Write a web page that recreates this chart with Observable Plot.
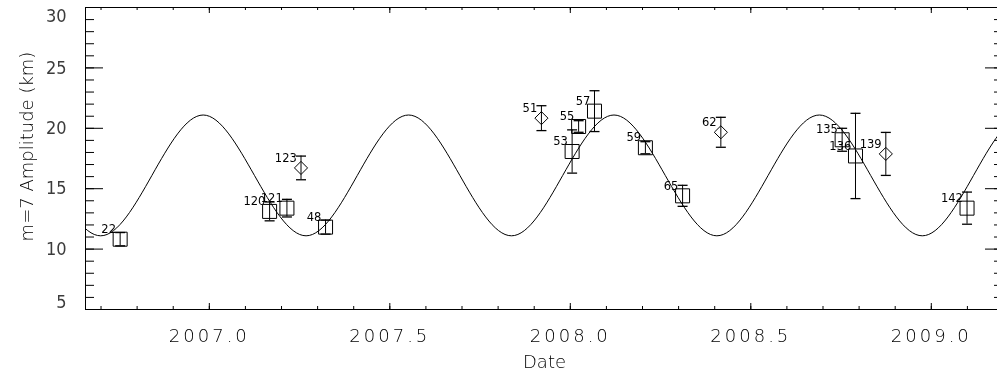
<!DOCTYPE html>
<html><head><meta charset="utf-8">
<script src="https://cdn.jsdelivr.net/npm/d3@7"></script>
<script src="https://cdn.jsdelivr.net/npm/@observablehq/plot@0.6"></script>
<style>html,body{margin:0;padding:0;background:#fff;overflow:hidden} svg{will-change:transform}</style>
</head><body><div id="chart"></div>
<script>
// Observations (label, date, amplitude, error half-width, marker)
const labels  = ["22", "120", "121", "123", "48", "51", "53", "55", "57", "59", "65", "62", "135", "136", "139", "142"];
const dates   = [2006.753, 2007.167, 2007.215, 2007.254, 2007.322, 2007.920, 2008.005, 2008.023, 2008.067, 2008.208, 2008.311, 2008.417, 2008.753, 2008.790, 2008.874, 2009.099];
const amps    = [10.82, 13.12, 13.39, 16.72, 11.82, 20.84, 18.08, 20.15, 21.42, 18.39, 14.41, 19.67, 19.05, 17.71, 17.88, 13.39];
const errs    = [0.55, 0.78, 0.73, 0.98, 0.58, 1.03, 1.79, 0.48, 1.69, 0.50, 0.87, 1.24, 0.95, 3.53, 1.78, 1.33];
const markers = ["square", "square", "square", "diamond2", "square", "diamond2", "square", "square", "square", "square", "square", "diamond2", "square", "square", "diamond2", "square"];

// Fitted sinusoid at extremes and mean crossings
const fitDates = [2006.556, 2006.699, 2006.841, 2006.983, 2007.125, 2007.268, 2007.410, 2007.552, 2007.694, 2007.837, 2007.979, 2008.121, 2008.263, 2008.406, 2008.548, 2008.690, 2008.832, 2008.975, 2009.117, 2009.259, 2009.401];
const fitAmps  = [16.1, 11.1, 16.1, 21.1, 16.1, 11.1, 16.1, 21.1, 16.1, 11.1, 16.1, 21.1, 16.1, 11.1, 16.1, 21.1, 16.1, 11.1, 16.1, 21.1, 16.1];

// Tick labels
const xTickLabels = ["2007.0", "2007.5", "2008.0", "2008.5", "2009.0"];
const yTickLabels = ["5", "10", "15", "20", "25", "30"];

const points = labels.map((label, i) => ({
  label, date: dates[i], amp: amps[i], lo: amps[i] - errs[i], hi: amps[i] + errs[i], marker: markers[i]
}));
const fit = fitDates.map((d, i) => ({date: d, amp: fitAmps[i]}));
const xMajor = xTickLabels.map(Number);
const yMajor = yTickLabels.map(Number);
const xMinor = d3.range(20067, 20093).map(k => k / 10);
const yMinor = d3.range(5, 31);

const W = 997, H = 376, mL = 85, mR = -6, mT = 7, mB = 67;
const pw = W - mL - mR, ph = H - mT - mB;
const cap = {draw(ctx) { ctx.moveTo(-5, 0); ctx.lineTo(5, 0); }};
const narrow = "'Liberation Sans Narrow', 'DejaVu Sans Condensed', 'Liberation Sans', sans-serif";
const yLab = {anchor: "left", tickSize: 0, tickPadding: 19, label: null, fill: "#3c3c3c",
  tickFormat: d => yTickLabels[yMajor.indexOf(d)], fontSize: 18, fontFamily: narrow};

const chart = Plot.plot({
  width: W, height: H,
  marginLeft: mL, marginRight: mR, marginTop: mT, marginBottom: mB,
  x: {domain: [2006.657, 2009.2], axis: null},
  y: {domain: [5, 30], axis: null},
  style: {fontFamily: "'DejaVu Sans', sans-serif", fontWeight: 200, background: "white", color: "black", overflow: "hidden"},
  marks: [
    Plot.frame({stroke: "black", strokeWidth: 1}),
    // inward ticks, all four sides
    Plot.tickX(xMinor, {x: d => d, insetTop: ph - 3, stroke: "black"}),
    Plot.tickX(xMinor, {x: d => d, insetBottom: ph - 3, stroke: "black"}),
    Plot.tickX(xMajor, {x: d => d, insetTop: ph - 6, stroke: "black"}),
    Plot.tickX(xMajor, {x: d => d, insetBottom: ph - 6, stroke: "black"}),
    Plot.tickY(yMinor, {y: d => d, insetRight: pw - 9, stroke: "black"}),
    Plot.tickY(yMinor, {y: d => d, insetLeft: pw - 9, stroke: "black"}),
    Plot.tickY(yMajor, {y: d => d, insetRight: pw - 18, stroke: "black"}),
    Plot.tickY(yMajor, {y: d => d, insetLeft: pw - 18, stroke: "black"}),
    Plot.axisX(xMajor, {anchor: "bottom", tickSize: 0, tickPadding: 20, label: null,
      tickFormat: d => xTickLabels[xMajor.indexOf(d)], fontSize: 18}),
    Plot.axisY(yMajor.filter(v => v > 5 && v < 30), yLab),
    Plot.axisY([30], {...yLab, dy: 9}),
    Plot.axisY([5], {...yLab, dy: -7}),
    Plot.text(["Date"], {frameAnchor: "bottom", lineAnchor: "middle", dy: 53, fontSize: 18, ariaLabel: "xtitle"}),
    Plot.text(["m=7 Amplitude (km)"], {frameAnchor: "left", textAnchor: "middle", lineAnchor: "middle", rotate: -90, dx: -58, dy: -12, fontSize: 18, ariaLabel: "ytitle"}),
    // fitted curve
    Plot.line(fit, {x: "date", y: "amp", curve: "natural", stroke: "black", strokeWidth: 1, clip: true}),
    // error bars
    Plot.ruleX(points, {x: "date", y1: "lo", y2: "hi", stroke: "black", strokeWidth: 1}),
    Plot.dot(points, {x: "date", y: "lo", symbol: cap, stroke: "black", strokeWidth: 1.3, fill: "none"}),
    Plot.dot(points, {x: "date", y: "hi", symbol: cap, stroke: "black", strokeWidth: 1.3, fill: "none"}),
    // markers
    Plot.dot(points.filter(d => d.marker === "square"), {x: "date", y: "amp", symbol: "square", r: 7.9, stroke: "black", fill: "none", strokeWidth: 1}),
    Plot.dot(points.filter(d => d.marker === "diamond2"), {x: "date", y: "amp", symbol: "diamond2", r: 5.9, stroke: "black", fill: "none", strokeWidth: 1}),
    // labels
    Plot.text(points, {x: "date", y: "amp", text: "label", textAnchor: "end", dx: -4.2, dy: -10, fontSize: 11.5, fontWeight: 400, ariaLabel: "point-labels"})
  ]
});
document.getElementById("chart").appendChild(chart);
const s = d3.select(chart);
s.selectAll('g[aria-label="x-axis tick label"]').attr("letter-spacing", 3);
s.selectAll('g[aria-label="xtitle"]').attr("letter-spacing", 2);
s.selectAll('g[aria-label="ytitle"]').attr("letter-spacing", 2.3);
s.selectAll('g[aria-label="point-labels"]').attr("letter-spacing", 1.6);
</script>
</body></html>
